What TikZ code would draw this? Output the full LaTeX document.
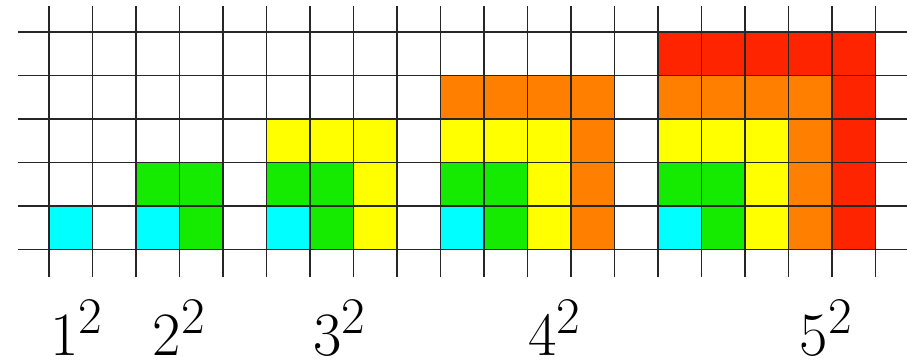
\documentclass[tikz,border=0pt]{standalone}
\definecolor{cCyan}{RGB}{0,255,255}
\definecolor{cGreen}{RGB}{20,235,0}
\definecolor{cYellow}{RGB}{255,255,0}
\definecolor{cOrange}{RGB}{255,128,0}
\definecolor{cRed}{RGB}{255,36,0}
\begin{document}
\begin{tikzpicture}[
  gridline/.style={draw=black!85, line width=1pt},
  lbl/.style={anchor=base, inner sep=0pt, font=\Huge, scale=1.62}
]
\useasboundingbox (-1.126,-2.575) rectangle (19.724,5.736);
\newcommand{\cell}[3]{\fill[#3] (#1,#2) rectangle ++(1,1);}
% 1^2
\cell{0}{0}{cCyan}
% 2^2
\cell{2}{0}{cCyan}
\cell{3}{0}{cGreen}\cell{2}{1}{cGreen}\cell{3}{1}{cGreen}
% 3^2
\cell{5}{0}{cCyan}
\cell{6}{0}{cGreen}\cell{5}{1}{cGreen}\cell{6}{1}{cGreen}
\foreach \y in {0,1,2} {\cell{7}{\y}{cYellow}}
\foreach \x in {5,6} {\cell{\x}{2}{cYellow}}
% 4^2
\cell{9}{0}{cCyan}
\cell{10}{0}{cGreen}\cell{9}{1}{cGreen}\cell{10}{1}{cGreen}
\foreach \y in {0,1,2} {\cell{11}{\y}{cYellow}}
\foreach \x in {9,10} {\cell{\x}{2}{cYellow}}
\foreach \y in {0,1,2,3} {\cell{12}{\y}{cOrange}}
\foreach \x in {9,10,11} {\cell{\x}{3}{cOrange}}
% 5^2
\cell{14}{0}{cCyan}
\cell{15}{0}{cGreen}\cell{14}{1}{cGreen}\cell{15}{1}{cGreen}
\foreach \y in {0,1,2} {\cell{16}{\y}{cYellow}}
\foreach \x in {14,15} {\cell{\x}{2}{cYellow}}
\foreach \y in {0,1,2,3} {\cell{17}{\y}{cOrange}}
\foreach \x in {14,15,16} {\cell{\x}{3}{cOrange}}
\foreach \y in {0,1,2,3,4} {\cell{18}{\y}{cRed}}
\foreach \x in {14,15,16,17} {\cell{\x}{4}{cRed}}
% grid
\foreach \x in {0,...,19} {\draw[gridline] (\x,-0.64) -- (\x,5.59);}
\foreach \y in {0,...,5} {\draw[gridline] (-0.71,\y) -- (19.72,\y);}
% labels
\node[lbl] (l1) at (0.64,-2.44) {$1^2$};
\node[lbl] (l2) at (3.0,-2.44) {$2^2$};
\node[lbl] (l3) at (6.69,-2.44) {$3^2$};
\node[lbl] (l4) at (11.63,-2.44) {$4^2$};
\node[lbl] (l5) at (17.87,-2.44) {$5^2$};
\end{tikzpicture}
\end{document}
